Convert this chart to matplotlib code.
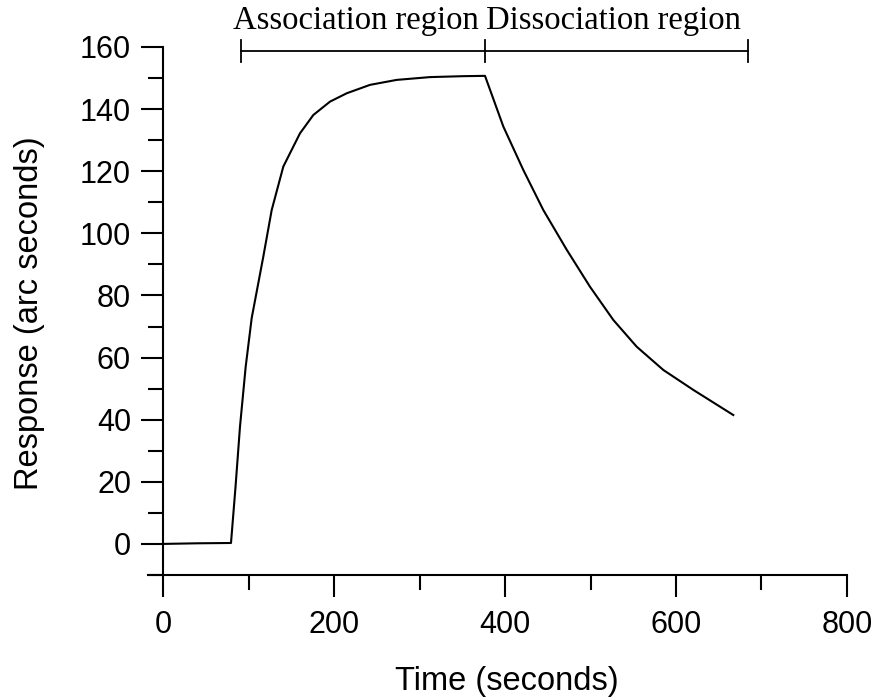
import matplotlib
matplotlib.use('Agg')
import matplotlib.pyplot as plt
from matplotlib.ticker import MultipleLocator

# response curve (time in s, response in arc seconds)
time_s = [0, 40, 79.5, 84.8, 90, 96.7, 103.7, 117.3, 127.1, 140.7, 160.2, 175.8, 195.3,
          214.9, 242.1, 273.3, 312.3, 351.3, 376.6,
          398, 421.4, 444.8, 472.2, 499.4, 526.7, 554, 585.2, 620.2, 667]
response = [0, 0.2, 0.3, 18.4, 37.7, 57.1, 72.7, 92.5, 107.5, 121.5, 132.2, 138.1, 142.4,
            145.1, 147.8, 149.4, 150.3, 150.6, 150.7,
            134.4, 120.4, 107.5, 94.7, 82.8, 72.1, 63.5, 56.0, 49.6, 41.5]

# region brackets
region_names = ['Association region', 'Dissociation region']
region_edges = [91, 376.6, 684]
label_x = [226, 527]
bracket_y = 158.7

sans = 'Liberation Sans'
serif = 'Liberation Serif'

fig = plt.figure(figsize=(8.74, 7), dpi=100)
ax = fig.add_axes([0.1699, 0.1786, 0.7992, 0.7543])

ax.plot(time_s, response, color='black', lw=1.5)

# brackets above the curve
ax.plot([region_edges[0], region_edges[-1]], [bracket_y, bracket_y], color='black', lw=1.3, clip_on=False)
for e in region_edges:
    ax.plot([e, e], [bracket_y - 3.6, bracket_y + 3.6], color='black', lw=1.3, clip_on=False)
for name, x in zip(region_names, label_x):
    ax.text(x, 165.8, name, ha='center', va='baseline', fontsize=23.5, family=serif)

ax.spines['top'].set_visible(False)
ax.spines['right'].set_visible(False)
ax.spines['left'].set_position(('data', 0))
for s in ['left', 'bottom']:
    ax.spines[s].set_linewidth(1.5)

ax.xaxis.set_major_locator(MultipleLocator(200))
ax.xaxis.set_minor_locator(MultipleLocator(100))
ax.yaxis.set_major_locator(MultipleLocator(20))
ax.yaxis.set_minor_locator(MultipleLocator(10))
ax.set_xticks([0, 200, 400, 600, 800])
ax.set_yticks(range(0, 161, 20))
ax.set_xlim(-17, 800)
ax.set_ylim(-10, 160)

ax.tick_params(which='major', direction='out', length=16, width=1.5, labelsize=22)
ax.tick_params(which='minor', direction='out', length=11, width=1.5)
ax.tick_params(axis='y', which='major', pad=7)
ax.tick_params(axis='x', which='major', pad=9)
for lab in ax.get_xticklabels() + ax.get_yticklabels():
    lab.set_family(sans)

ax.set_xlabel('Time (seconds)', fontsize=23.5, family=sans)
ax.set_ylabel('Response (arc seconds)', fontsize=23.5, family=sans)
ax.xaxis.set_label_coords(0.513, -0.172)
ax.yaxis.set_label_coords(-0.148, 0.495)

plt.savefig('out.png', dpi=100)
